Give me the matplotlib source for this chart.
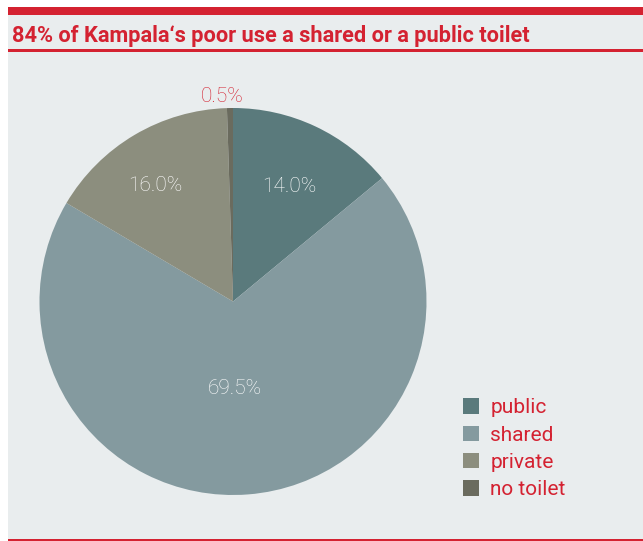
import matplotlib
matplotlib.use("Agg")
import numpy as np
from matplotlib import pyplot as plt
from matplotlib.patches import Rectangle

labels = ["public", "shared", "private", "no toilet"]
shares = [14.0, 69.5, 16.0, 0.5]
colors = ["#5a7a7c", "#849a9f", "#8c8e7e", "#6a6b5e"]
# where each percentage sits: fraction of radius, nudge from mid-angle (deg)
label_dist = [0.66, 0.45, 0.72, 1.06]
label_nudge = [-0.7, -3.2, 3.1, 2.2]

RED = "#d42231"
BG = "#e9edee"

plt.rcParams["font.family"] = ["Roboto", "DejaVu Sans"]

W, H = 643, 541
fig = plt.figure(figsize=(W / 100, H / 100), dpi=100)
fig.patch.set_facecolor("white")

def box(x0, y0, x1, y1, c):
    # pixel coords, y measured from top
    fig.patches.append(Rectangle((x0 / W, 1 - y1 / H), (x1 - x0) / W, (y1 - y0) / H,
                                 transform=fig.transFigure, facecolor=c, edgecolor="none", zorder=-5))

box(8, 7, W, 539, BG)
box(8, 7, W, 15, RED)
box(8, 49, W, 52, RED)
box(8, 539, W, 541, RED)

fig.text(12 / W, 1 - 42 / H, "84% of Kampala\u2018s poor use a shared or a public toilet",
         color=RED, fontsize=15.7, fontweight="bold", ha="left", va="baseline")

cx, cy, r = 233, 301.5, 193.5
ax = fig.add_axes([(cx - r) / W, 1 - (cy + r) / H, 2 * r / W, 2 * r / H])
ax.set_facecolor("none")
wedges, _ = ax.pie(shares, colors=colors, startangle=90, counterclock=False,
                   wedgeprops=dict(linewidth=0))
ax.set_xlim(-1, 1)
ax.set_ylim(-1, 1)
ax.set_aspect("equal")
ax.axis("off")

for w, v, d, n in zip(wedges, shares, label_dist, label_nudge):
    mid = np.deg2rad((w.theta1 + w.theta2) / 2 + n)
    col = RED if d > 1 else "white"
    ax.text(d * np.cos(mid), d * np.sin(mid), f"{v:.1f}%", color=col, fontsize=15,
            fontweight="light", ha="center", va="center", clip_on=False)

fig.legend(wedges, labels, loc="upper left", bbox_to_anchor=(455 / W, 1 - 390 / H),
           frameon=False, fontsize=15, labelcolor=RED, handlelength=0.75, handleheight=0.75,
           handletextpad=0.55, labelspacing=0.4, borderaxespad=0)

fig.savefig("out.png", dpi=100, facecolor="white")
